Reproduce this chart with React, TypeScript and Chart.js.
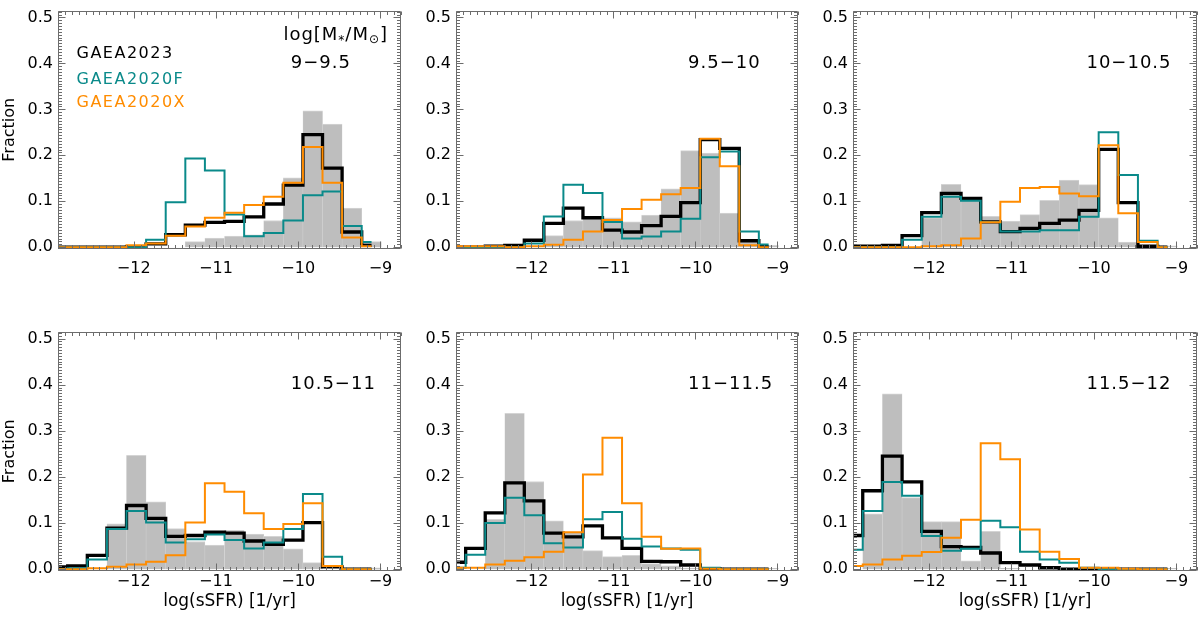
import React, { useEffect, useRef } from "react";
import { Chart, registerables } from "chart.js";

Chart.register(...registerables);

// ---------------- data ----------------
// histogram bin centres (log sSFR)
const binCenters = [
  -12.921, -12.683, -12.444, -12.206, -11.968, -11.73, -11.491, -11.253, -11.015,
  -10.776, -10.538, -10.3, -10.061, -9.823, -9.585, -9.347, -9.108,
];
const xTickValues = [-12, -11, -10, -9];
const yTickValues = [0, 0.1, 0.2, 0.3, 0.4, 0.5];
const seriesNames = ["GAEA2023", "GAEA2020F", "GAEA2020X"];
const massBinLabels = ["9−9.5", "9.5−10", "10−10.5", "10.5−11", "11−11.5", "11.5−12"];
const xAxisTitle = "log(sSFR) [1/yr]";
const yAxisTitle = "Fraction";

// observed (grey filled)
const observed1 = [0, 0, 0, 0, 0, 0, 0, 0.012, 0.02, 0.024, 0.027, 0.058, 0.151, 0.297, 0.268, 0.085, 0.012];
const observed2 = [0, 0, 0, 0, 0, 0.025, 0.058, 0.062, 0.064, 0.055, 0.07, 0.127, 0.21, 0.205, 0.074, 0.012, 0.004];
const observed3 = [0, 0, 0, 0, 0.064, 0.137, 0.104, 0.067, 0.057, 0.071, 0.102, 0.146, 0.136, 0.064, 0.011, 0, 0.003];
const observed4 = [0, 0, 0, 0.098, 0.247, 0.146, 0.088, 0.06, 0.052, 0.084, 0.076, 0.071, 0.044, 0.014, 0, 0, 0.003];
const observed5 = [0, 0, 0.108, 0.338, 0.19, 0.105, 0.08, 0.04, 0.027, 0.03, 0.012, 0.007, 0.002, 0, 0, 0, 0.002];
const observed6 = [0, 0.12, 0.38, 0.155, 0.103, 0.103, 0.018, 0.082, 0.002, 0, 0, 0, 0, 0, 0, 0, 0.002];

// GAEA2023 (black)
const gaea2023_1 = [0, 0, 0, 0, 0.001, 0.007, 0.027, 0.048, 0.054, 0.056, 0.066, 0.094, 0.135, 0.245, 0.172, 0.033, 0.004];
const gaea2023_2 = [0, 0, 0.002, 0.004, 0.015, 0.052, 0.085, 0.064, 0.037, 0.033, 0.047, 0.067, 0.097, 0.234, 0.215, 0.014, 0.001];
const gaea2023_3 = [0.002, 0.002, 0.004, 0.025, 0.075, 0.117, 0.106, 0.055, 0.034, 0.041, 0.052, 0.059, 0.08, 0.213, 0.097, 0.002, 0];
const gaea2023_4 = [0.005, 0.007, 0.03, 0.089, 0.138, 0.11, 0.071, 0.073, 0.08, 0.078, 0.061, 0.054, 0.063, 0.101, 0.005, 0, 0];
const gaea2023_5 = [0.015, 0.045, 0.122, 0.187, 0.148, 0.078, 0.07, 0.094, 0.068, 0.045, 0.017, 0.016, 0.009, 0.001, 0, 0, 0];
const gaea2023_6 = [0.073, 0.17, 0.245, 0.189, 0.082, 0.049, 0.047, 0.035, 0.014, 0.009, 0.003, 0, 0, 0, 0, 0, 0];

// GAEA2020F (teal)
const gaea2020F_1 = [0, 0, 0, 0, 0, 0.016, 0.098, 0.193, 0.167, 0.071, 0.024, 0.031, 0.058, 0.113, 0.121, 0.046, 0.011];
const gaea2020F_2 = [0, 0, 0, 0, 0.008, 0.067, 0.136, 0.118, 0.055, 0.019, 0.023, 0.034, 0.062, 0.196, 0.208, 0.034, 0.006];
const gaea2020F_3 = [0, 0, 0, 0.016, 0.066, 0.11, 0.101, 0.055, 0.034, 0.034, 0.037, 0.037, 0.066, 0.25, 0.157, 0.014, 0];
const gaea2020F_4 = [0, 0.002, 0.021, 0.087, 0.126, 0.101, 0.058, 0.065, 0.075, 0.063, 0.045, 0.058, 0.087, 0.163, 0.027, 0, 0];
const gaea2020F_5 = [0.003, 0.031, 0.1, 0.155, 0.117, 0.056, 0.047, 0.108, 0.124, 0.066, 0.049, 0.045, 0.042, 0.003, 0, 0, 0];
const gaea2020F_6 = [0.042, 0.126, 0.189, 0.159, 0.072, 0.04, 0.044, 0.105, 0.091, 0.038, 0.021, 0.014, 0.003, 0, 0, 0, 0];

// GAEA2020X (orange)
const gaea2020X_1 = [0, 0, 0, 0, 0.004, 0.008, 0.025, 0.045, 0.064, 0.075, 0.092, 0.11, 0.14, 0.218, 0.14, 0.021, 0.002];
const gaea2020X_2 = [0.002, 0.002, 0.002, 0, 0.002, 0.005, 0.016, 0.034, 0.059, 0.083, 0.103, 0.115, 0.129, 0.236, 0.176, 0.004, 0];
const gaea2020X_3 = [0, 0, 0, 0, 0.002, 0.004, 0.019, 0.054, 0.099, 0.129, 0.131, 0.117, 0.111, 0.222, 0.074, 0.011, 0];
const gaea2020X_4 = [0, 0, 0.002, 0.005, 0.01, 0.016, 0.03, 0.101, 0.186, 0.168, 0.121, 0.087, 0.098, 0.143, 0.007, 0, 0];
const gaea2020X_5 = [0.003, 0.003, 0.01, 0.018, 0.026, 0.038, 0.08, 0.205, 0.285, 0.143, 0.07, 0.044, 0.045, 0.001, 0, 0, 0];
const gaea2020X_6 = [0.007, 0.01, 0.021, 0.029, 0.037, 0.068, 0.107, 0.273, 0.238, 0.086, 0.038, 0.022, 0.003, 0.003, 0.001, 0, 0];

const observedSets = [observed1, observed2, observed3, observed4, observed5, observed6];
const gaea2023Sets = [gaea2023_1, gaea2023_2, gaea2023_3, gaea2023_4, gaea2023_5, gaea2023_6];
const gaea2020FSets = [gaea2020F_1, gaea2020F_2, gaea2020F_3, gaea2020F_4, gaea2020F_5, gaea2020F_6];
const gaea2020XSets = [gaea2020X_1, gaea2020X_2, gaea2020X_3, gaea2020X_4, gaea2020X_5, gaea2020X_6];

// ---------------- layout / style ----------------
const X_MIN = -12.92;
const X_MAX = -8.75;
const Y_MIN = -0.004;
const Y_MAX = 0.515;
const COL_LEFT = [58, 456, 853];
const COL_WIDTH = [343, 342, 344];
const ROW_TOP = [2, 323];
const ROW_HEIGHT = [247, 248];
const X_AXIS_H = [40, 48];
const Y_AXIS_W = 58;
const PAD_T = 6;
const PAD_R = 8;

const FONT = "'DejaVu Sans', sans-serif";
const BLACK = "#000000";
const TEAL = "#0a8a8a";
const ORANGE = "#ff8c00";
const GREY = "#bebebe";
const GREY_EDGE = "#d4d4d4";
const FRAME = "#6c6c6c";
const seriesColors = [BLACK, TEAL, ORANGE];

const LEGEND_X = -12.695;
const LEGEND_Y = [0.42, 0.364, 0.315];
const LABEL_X = -10.09;
const LABEL_Y = 0.401;
const HEADER_X = -10.18;
const HEADER_Y = 0.461;

Chart.defaults.font.family = FONT;
Chart.defaults.color = "#000";

const pts = (vals: number[]) => binCenters.map((x, i) => ({ x, y: vals[i] }));
const fmtX = (v: number) => (v < 0 ? "−" + Math.abs(v) : String(v));

function makeFramePlugin() {
  return {
    id: "frameTicks",
    afterDatasetsDraw(chart: any) {
      const { ctx, chartArea: a, scales } = chart;
      const x = scales.x;
      const y = scales.y;
      ctx.save();
      ctx.strokeStyle = FRAME;
      ctx.lineWidth = 1;
      const l = Math.round(a.left) + 0.5;
      const r = Math.round(a.right) - 0.5;
      const t = Math.round(a.top) + 0.5;
      const b = Math.round(a.bottom) - 0.5;
      ctx.beginPath();
      ctx.rect(l, t, r - l, b - t);
      // x ticks (major every 1, minor every 1/12)
      for (let i = Math.ceil(X_MIN * 12); i <= Math.floor(X_MAX * 12); i++) {
        const v = i / 12;
        const len = i % 12 === 0 ? 7 : 3.5;
        const px = Math.round(x.getPixelForValue(v)) + 0.5;
        ctx.moveTo(px, b);
        ctx.lineTo(px, b - len);
        ctx.moveTo(px, t);
        ctx.lineTo(px, t + len);
      }
      // y ticks (major every 0.1, minor every 0.1/16)
      for (let i = Math.ceil(Y_MIN * 160); i <= Math.floor(Y_MAX * 160); i++) {
        const v = i / 160;
        const len = i % 16 === 0 ? 7 : 3.5;
        const py = Math.round(y.getPixelForValue(v)) + 0.5;
        ctx.moveTo(l, py);
        ctx.lineTo(l + len, py);
        ctx.moveTo(r, py);
        ctx.lineTo(r - len, py);
      }
      ctx.stroke();
      ctx.restore();
    },
  };
}

function makeTextPlugin(idx: number) {
  return {
    id: "panelText",
    afterDraw(chart: any) {
      const { ctx, scales } = chart;
      const x = scales.x;
      const y = scales.y;
      ctx.save();
      ctx.textBaseline = "middle";
      ctx.textAlign = "left";
      (ctx as any).letterSpacing = "1px";
      // mass bin label
      ctx.fillStyle = BLACK;
      ctx.font = `18px ${FONT}`;
      ctx.fillText(massBinLabels[idx], x.getPixelForValue(LABEL_X), y.getPixelForValue(LABEL_Y));
      if (idx === 0) {
        // header log[M*/M⊙]
        let hx = x.getPixelForValue(HEADER_X);
        const hy = y.getPixelForValue(HEADER_Y);
        const big = `18px ${FONT}`;
        const small = `12px ${FONT}`;
        const parts: [string, string, number][] = [
          ["log[M", big, 0],
          ["*", small, 5],
          ["/M", big, 0],
          ["⊙", small, 4],
          ["]", big, 0],
        ];
        for (const [txt, f, dy] of parts) {
          ctx.font = f;
          ctx.fillText(txt, hx, hy + dy);
          hx += ctx.measureText(txt).width;
        }
        // legend
        (ctx as any).letterSpacing = "1.5px";
        ctx.font = `16px ${FONT}`;
        seriesNames.forEach((name, i) => {
          ctx.fillStyle = seriesColors[i];
          ctx.fillText(name, x.getPixelForValue(LEGEND_X), y.getPixelForValue(LEGEND_Y[i]));
        });
      }
      ctx.restore();
    },
  };
}

function Panel({ idx }: { idx: number }) {
  const ref = useRef<HTMLCanvasElement>(null);
  const row = Math.floor(idx / 3);
  const col = idx % 3;
  const W = COL_WIDTH[col];
  const H = ROW_HEIGHT[row];
  const AX = X_AXIS_H[row];
  const cw = Y_AXIS_W + W + PAD_R;
  const ch = PAD_T + H + AX;

  useEffect(() => {
    const canvas = ref.current;
    if (!canvas) return;
    const tickFont = { family: FONT, size: 16 };
    const chart = new Chart(canvas, {
      type: "bar",
      data: {
        datasets: [
          {
            type: "bar",
            label: "observed",
            data: pts(observedSets[idx]),
            backgroundColor: GREY,
            borderColor: GREY_EDGE,
            borderWidth: { top: 1, left: 0.5, right: 0.5, bottom: 0 },
            borderSkipped: false,
            barPercentage: 1,
            categoryPercentage: 1,
            grouped: false,
            order: 4,
          } as any,
          {
            type: "line",
            label: seriesNames[0],
            data: pts(gaea2023Sets[idx]),
            borderColor: BLACK,
            borderWidth: 3.3,
            stepped: "middle",
            pointRadius: 0,
            fill: false,
            borderJoinStyle: "miter",
            order: 3,
          } as any,
          {
            type: "line",
            label: seriesNames[1],
            data: pts(gaea2020FSets[idx]),
            borderColor: TEAL,
            borderWidth: 2,
            stepped: "middle",
            pointRadius: 0,
            fill: false,
            borderJoinStyle: "miter",
            order: 2,
          } as any,
          {
            type: "line",
            label: seriesNames[2],
            data: pts(gaea2020XSets[idx]),
            borderColor: ORANGE,
            borderWidth: 2,
            stepped: "middle",
            pointRadius: 0,
            fill: false,
            borderJoinStyle: "miter",
            order: 1,
          } as any,
        ],
      },
      options: {
        animation: false,
        responsive: false,
        events: [],
        layout: { padding: { top: PAD_T, right: PAD_R, left: 0, bottom: 0 } },
        plugins: { legend: { display: false }, tooltip: { enabled: false } },
        scales: {
          x: {
            type: "linear",
            min: X_MIN,
            max: X_MAX,
            offset: false,
            grid: { display: false, drawTicks: false },
            border: { display: false },
            afterBuildTicks: (s: any) => {
              s.ticks = xTickValues.map((v) => ({ value: v }));
            },
            afterFit: (s: any) => {
              s.height = AX;
            },
            ticks: {
              font: tickFont,
              color: "#000",
              padding: row === 0 ? 10 : 1.5,
              maxRotation: 0,
              autoSkip: false,
              callback: (v: any) => fmtX(Number(v)),
            },
            title:
              row === 1
                ? { display: true, text: xAxisTitle, font: { family: FONT, size: 17 }, color: "#000", padding: { top: 0, bottom: 7 } }
                : { display: false },
          } as any,
          y: {
            type: "linear",
            min: Y_MIN,
            max: Y_MAX,
            grid: { display: false, drawTicks: false },
            border: { display: false },
            afterBuildTicks: (s: any) => {
              s.ticks = yTickValues.map((v) => ({ value: v }));
            },
            afterFit: (s: any) => {
              s.width = Y_AXIS_W;
            },
            ticks: {
              font: tickFont,
              color: "#000",
              padding: 5,
              callback: (v: any) => Number(v).toFixed(1),
            },
            title:
              col === 0
                ? { display: true, text: yAxisTitle, font: { family: FONT, size: 16 }, color: "#000", padding: { top: 0, bottom: 0 } }
                : { display: false },
          } as any,
        },
      } as any,
      plugins: [makeFramePlugin(), makeTextPlugin(idx)],
    });
    return () => chart.destroy();
  }, [idx]);

  return (
    <canvas
      ref={ref}
      width={cw}
      height={ch}
      style={{
        position: "absolute",
        left: COL_LEFT[col] - Y_AXIS_W,
        top: ROW_TOP[row] - PAD_T,
        width: cw,
        height: ch,
      }}
    />
  );
}

export default function App() {
  return (
    <div
      style={{
        position: "absolute",
        left: 0,
        top: 0,
        width: 1200,
        height: 621,
        overflow: "hidden",
        background: "#ffffff",
      }}
    >
      {[0, 1, 2, 3, 4, 5].map((i) => (
        <Panel key={i} idx={i} />
      ))}
    </div>
  );
}
